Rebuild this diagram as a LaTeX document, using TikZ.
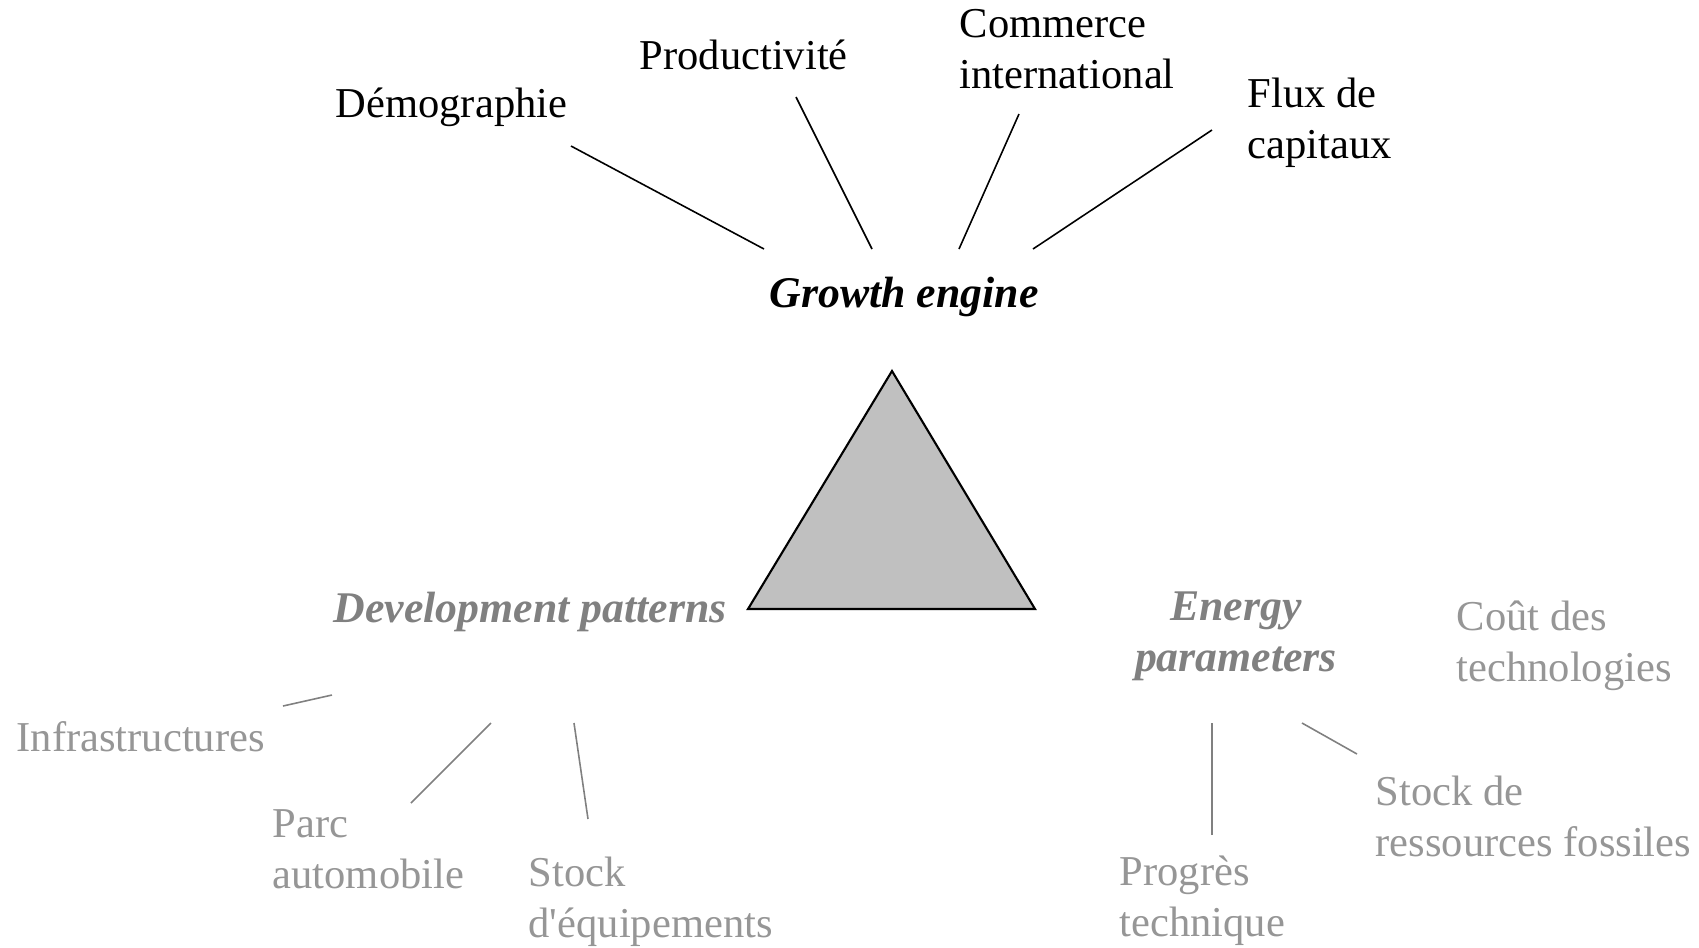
\documentclass[tikz,border=0pt]{standalone}
\usepackage{fontspec}
\setmainfont{Liberation Serif}
\definecolor{leafgray}{RGB}{150,150,150}
\definecolor{headgray}{RGB}{128,128,128}
\definecolor{trifill}{RGB}{192,192,192}

\tikzset{
  lbl/.style={inner sep=0pt, anchor=base west, align=left,
    font=\fontsize{12.1}{14.3}\selectfont},
  head/.style={lbl, font=\fontsize{12.45}{14.3}\selectfont\bfseries\itshape},
  leaf/.style={lbl, text=leafgray},
  link/.style={line width=0.45pt},
  sublink/.style={line width=0.45pt, draw=headgray}
}

\begin{document}
\begin{tikzpicture}[x=0.01cm,y=-0.01cm] % <- one unit per pixel
   \useasboundingbox (0,0) rectangle (1699,947);
   % Growth engine and its drivers (two-line labels sit on their last line)
   \node[head] (growth) at (769,307) {Growth engine};
   \node[lbl] (demo) at (335,117) {Démographie};
   \node[lbl] (prod) at (639,69) {Productivité};
   \node[lbl] (commerce) at (959,88) {Commerce\\international};
   \node[lbl] (flux) at (1247,158) {Flux de\\capitaux};
   \coordinate (demo-a) at (571,146);      \coordinate (demo-b) at (764,249);
   \coordinate (prod-a) at (796,97);       \coordinate (prod-b) at (872,249);
   \coordinate (commerce-a) at (1019,114); \coordinate (commerce-b) at (959,249);
   \coordinate (flux-a) at (1212,130);     \coordinate (flux-b) at (1033,249);
   \draw[link] (demo-a) -- (demo-b);
   \draw[link] (prod-a) -- (prod-b);
   \draw[link] (commerce-a) -- (commerce-b);
   \draw[link] (flux-a) -- (flux-b);
   % Triangle in the middle
   \coordinate (top) at (892,371);
   \coordinate (left) at (748,609);
   \coordinate (right) at (1035,609);
   \draw[fill=trifill, line width=0.6pt, line join=miter] (top) -- (right) -- (left) -- cycle;
   % Development patterns
   \node[head, text=headgray] (dev) at (333,622) {Development patterns};
   \node[leaf] (infra) at (16,751) {Infrastructures};
   \node[leaf] (parc) at (272,888) {Parc\\automobile};
   \node[leaf] (stockeq) at (528,937) {Stock\\d\textquotesingle équipements};
   \coordinate (infra-a) at (283,706);   \coordinate (infra-b) at (332,695);
   \coordinate (parc-a) at (411,803);    \coordinate (parc-b) at (491,723);
   \coordinate (stockeq-a) at (588,819); \coordinate (stockeq-b) at (574,723);
   \draw[sublink] (infra-a) -- (infra-b);
   \draw[sublink] (parc-a) -- (parc-b);
   \draw[sublink] (stockeq-a) -- (stockeq-b);
   % Energy parameters
   \node[head, text=headgray, anchor=base, align=center] (energy) at (1236,671) {Energy\\parameters};
   \node[leaf] (cout) at (1456,681) {Coût des\\technologies};
   \node[leaf] (stockres) at (1375,856) {Stock de\\ressources fossiles};
   \node[leaf] (progres) at (1119,936) {Progrès\\technique};
   \coordinate (progres-a) at (1212,835);  \coordinate (progres-b) at (1212,723);
   \coordinate (stockres-a) at (1357,754); \coordinate (stockres-b) at (1302,723);
   \draw[sublink] (progres-a) -- (progres-b);
   \draw[sublink] (stockres-a) -- (stockres-b);
\end{tikzpicture}
\end{document}
